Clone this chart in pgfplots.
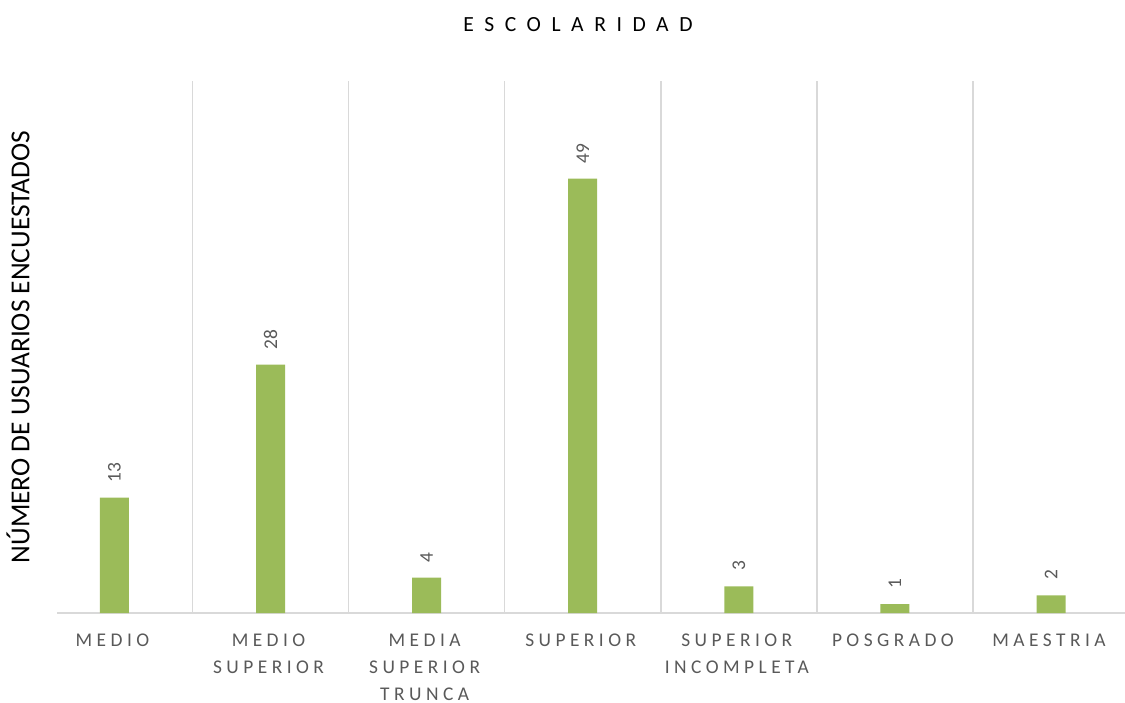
\documentclass[border=0pt]{standalone}
\usepackage{fontspec}
\setmainfont{Carlito}
\newfontfamily\tickfont{Carlito}[LetterSpace=23]
\newfontfamily\titlefont{Carlito}[LetterSpace=49]
\usepackage{pgfplots}
\pgfplotsset{compat=1.18}
\definecolor{bargreen}{HTML}{9BBB59}
\definecolor{gridgray}{HTML}{D9D9D9}
\definecolor{labelgray}{HTML}{595959}

\begin{document}
\begin{tikzpicture}
\useasboundingbox (-28.5pt,-44.5pt) rectangle (534pt,306.5pt);
\begin{axis}[
    at={(0,0)}, anchor=south west,
    scale only axis,
    width=534pt, height=266pt,
    xmin=-0.368, xmax=6.474,
    ymin=0, ymax=60,
    ybar, bar width=0.186,
    axis x line*=bottom,
    axis y line=none,
    ytick=\empty,
    x axis line style={gridgray, line width=1pt, -},
    xtick={0,...,6},
    major tick length=0pt,
    minor tick length=0pt,
    xticklabels={MEDIO, MEDIO\\SUPERIOR, MEDIA\\SUPERIOR\\TRUNCA, SUPERIOR, SUPERIOR\\INCOMPLETA, POSGRADO, MAESTRIA},
    xticklabel style={font=\tickfont\fontsize{9.7}{13.3}\selectfont, align=center,
        text=labelgray, anchor=north, inner sep=0pt, yshift=-10.5pt, xshift=-1pt},
    minor xtick={0.5,1.5,...,5.5},
    xminorgrids=true,
    minor grid style={gridgray, line width=0.75pt},
    /pgf/number format/assume math mode=true,
    nodes near coords={\pgfmathprintnumber{\pgfplotspointmeta}},
    every node near coord/.append style={font=\fontsize{9.7}{11}\selectfont,
        text=labelgray, yshift=7.5pt, rotate=90, anchor=west, inner sep=0pt},
    clip=false,
]
\addplot[fill=bargreen, draw=none] coordinates {
    (0,13) (1,28) (2,4) (3,49) (4,3) (5,1) (6,2)
};
\end{axis}
\node[rotate=90, font=\fontsize{13.7}{15}\selectfont] at (-19.5pt,133pt)
    {NÚMERO DE USUARIOS ENCUESTADOS};
\node[font=\titlefont\fontsize{10.8}{13}\selectfont] at (260.5pt,294pt) {ESCOLARIDAD};
\end{tikzpicture}
\end{document}
